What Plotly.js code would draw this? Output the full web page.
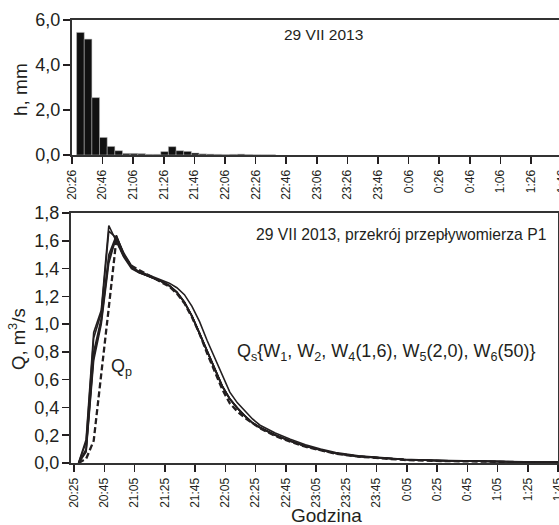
<!DOCTYPE html>
<html>
<head>
<meta charset="utf-8">
<script src="https://cdn.plot.ly/plotly-3.0.1.min.js"></script>
<style>
  html, body { margin: 0; padding: 0; overflow: hidden; background: #fff; }
</style>
</head>
<body>
<div id="chart"></div>
<script>
// rainfall, 5-min intervals (start of interval)
const rainStart = ['20:29', '20:34', '20:39', '20:44', '20:49', '20:54', '20:59', '21:04', '21:09', '21:14',
    '21:19', '21:24', '21:29', '21:34', '21:39', '21:44', '21:49', '21:54', '21:59', '22:04',
    '22:09', '22:14', '22:19', '22:24', '22:29', '22:34'];
const rainH = [5.45, 5.15, 2.55, 0.78, 0.38, 0.19, 0.07, 0.07, 0.06, 0.03,
    0.03, 0.15, 0.37, 0.19, 0.16, 0.09, 0.05, 0.04, 0.03, 0.02,
    0.03, 0.04, 0.02, 0.01, 0.01, 0.01];

// discharge hydrographs
const qTimes = ['20:28', '20:33', '20:38', '20:43', '20:48', '20:53', '20:58', '21:03', '21:08', '21:13',
    '21:18', '21:23', '21:28', '21:33', '21:38', '21:43', '21:48', '21:53', '21:58', '22:03',
    '22:08', '22:13', '22:18', '22:23', '22:28', '22:38', '22:48', '22:58', '23:08', '23:18',
    '23:33', '23:48', '0:03', '0:23', '0:43', '1:03', '1:23', '1:48'];
const qW1 = [0, 0.17, 0.94, 1.10, 1.71, 1.60, 1.48, 1.40, 1.37, 1.35, 1.33, 1.305, 1.275, 1.228, 1.155, 1.055, 0.93, 0.80, 0.672, 0.551,
    0.46, 0.394, 0.337, 0.288, 0.254, 0.20, 0.158, 0.12, 0.093, 0.069, 0.048, 0.034, 0.025, 0.018, 0.013, 0.009, 0.007, 0.005];
const qW2 = [0, 0.15, 0.90, 1.08, 1.67, 1.62, 1.49, 1.41, 1.372, 1.351, 1.331, 1.306, 1.276, 1.229, 1.157, 1.057, 0.932, 0.802, 0.674, 0.553,
    0.461, 0.395, 0.338, 0.289, 0.255, 0.201, 0.158, 0.12, 0.093, 0.069, 0.048, 0.034, 0.025, 0.018, 0.013, 0.009, 0.007, 0.005];
const qW4 = [0, 0.10, 0.80, 1.04, 1.50, 1.64, 1.50, 1.41, 1.373, 1.352, 1.332, 1.307, 1.277, 1.23, 1.158, 1.058, 0.933, 0.803, 0.675, 0.554,
    0.462, 0.396, 0.339, 0.29, 0.255, 0.201, 0.159, 0.121, 0.094, 0.07, 0.048, 0.034, 0.025, 0.018, 0.013, 0.009, 0.007, 0.005];
const qW5 = [0, 0.08, 0.74, 1.00, 1.44, 1.63, 1.51, 1.42, 1.374, 1.353, 1.333, 1.308, 1.278, 1.231, 1.16, 1.06, 0.935, 0.805, 0.677, 0.556,
    0.463, 0.397, 0.34, 0.29, 0.256, 0.202, 0.159, 0.121, 0.094, 0.07, 0.049, 0.035, 0.025, 0.018, 0.013, 0.009, 0.007, 0.005];
const qW6 = [0, 0.09, 0.77, 1.02, 1.47, 1.63, 1.50, 1.41, 1.38, 1.36, 1.34, 1.32, 1.295, 1.262, 1.212, 1.128, 1.018, 0.882, 0.755, 0.625,
    0.51, 0.433, 0.372, 0.317, 0.272, 0.216, 0.171, 0.131, 0.10, 0.075, 0.052, 0.037, 0.027, 0.019, 0.014, 0.01, 0.008, 0.006];
const qP = [0, 0.03, 0.16, 0.62, 1.12, 1.61, 1.49, 1.42, 1.39, 1.36, 1.33, 1.30, 1.27, 1.22, 1.15, 1.05, 0.93, 0.79, 0.655, 0.53,
    0.43, 0.37, 0.325, 0.285, 0.25, 0.195, 0.153, 0.117, 0.09, 0.067, 0.046, 0.032, 0.022, 0.015, 0.011, 0.008, 0.006, 0.005];

const W = 580, H = 525;
const ink = '#231f20';
const fontFam = '"Liberation Sans", Arial, sans-serif';

// "hh:mm" -> date string, hours after midnight belong to the next day
function toDate(hm) {
    const parts = hm.split(':');
    const h = parseInt(parts[0], 10);
    const day = h < 12 ? '2013-07-30' : '2013-07-29';
    return day + ' ' + (h < 10 ? '0' + h : h) + ':' + parts[1];
}

const qx = qTimes.map(toDate);

const traces = [{
    x: rainStart.map(toDate),
    y: rainH,
    type: 'bar',
    xaxis: 'x', yaxis: 'y',
    width: 300000,
    offset: 0,
    marker: {color: '#111', line: {color: '#bbb', width: 0.5}},
    hoverinfo: 'none'
}];

const sim = [qW1, qW2, qW4, qW5, qW6];
sim.forEach((arr) => {
    traces.push({
        x: qx, y: arr, type: 'scatter', mode: 'lines',
        xaxis: 'x2', yaxis: 'y2',
        line: {color: ink, width: 1.6},
        hoverinfo: 'none'
    });
});
traces.push({
    x: qx, y: qP, type: 'scatter', mode: 'lines',
    xaxis: 'x2', yaxis: 'y2',
    line: {color: ink, width: 2.3, dash: '6px,3px'},
    hoverinfo: 'none'
});

function xAx(dom, anchor, r0, r1, t0) {
    return {
        domain: dom, anchor: anchor, type: 'date',
        range: [toDate(r0), toDate(r1)],
        tick0: toDate(t0), dtick: 1200000, tickformat: '%-H:%M',
        tickangle: -90, ticks: 'outside', ticklen: 7, tickwidth: 1.5, tickcolor: ink,
        ticklabelstandoff: 1,
        tickfont: {size: 12, color: ink},
        showline: true, linewidth: 2, linecolor: '#333', mirror: true,
        showgrid: false, zeroline: false, fixedrange: true
    };
}
function yAx(dom, anchor, rmax, dt) {
    return {
        domain: dom, anchor: anchor,
        range: [0, rmax], dtick: dt, tickformat: '.1f',
        ticks: 'outside', ticklen: 7, tickwidth: 1.5, tickcolor: ink,
        ticklabelstandoff: -1,
        tickfont: {size: 18, color: ink},
        showline: true, linewidth: 2, linecolor: '#333', mirror: true,
        showgrid: false, zeroline: false, fixedrange: true
    };
}

const layout = {
    width: W, height: H,
    margin: {l: 0, r: 0, t: 0, b: 0},
    paper_bgcolor: '#fff', plot_bgcolor: '#fff',
    font: {family: fontFam, color: ink},
    separators: ', ',
    showlegend: false,
    bargap: 0,
    xaxis: xAx([72 / W, 1], 'y', '20:26', '1:58', '20:26'),
    yaxis: yAx([1 - 155 / H, 1 - 20 / H], 'x', 6, 2),
    xaxis2: xAx([71 / W, 558 / W], 'y2', '20:23', '1:45', '20:25'),
    yaxis2: yAx([1 - 463 / H, 1 - 213 / H], 'x2', 1.8, 0.2),
    annotations: [
        {text: '29 VII 2013', x: 282 / W, y: 1 - 35 / H, xanchor: 'left', yanchor: 'middle', font: {size: 15.5}},
        {text: '29 VII 2013, przekrój przepływomierza P1', x: 548 / W, y: 1 - 235 / H, xanchor: 'right', yanchor: 'middle', font: {size: 15.7}},
        {text: 'Q<sub>p</sub>', x: 109 / W, y: 1 - 367 / H, xanchor: 'left', yanchor: 'middle', font: {size: 18}},
        {text: 'Q<sub>s</sub>{W<sub>1</sub>, W<sub>2</sub>, W<sub>4</sub>(1,6), W<sub>5</sub>(2,0), W<sub>6</sub>(50)}',
            x: 235 / W, y: 1 - 352 / H, xanchor: 'left', yanchor: 'middle', font: {size: 18}},
        {text: 'h, mm', x: 20 / W, y: 1 - 90 / H, textangle: -90, xanchor: 'center', yanchor: 'middle', font: {size: 19}},
        {text: 'Q, m<sup>3</sup>/s', x: 17 / W, y: 1 - 339 / H, textangle: -90, xanchor: 'center', yanchor: 'middle', font: {size: 18.5}},
        {text: 'Godzina', x: 326 / W, y: 1 - 515 / H, xanchor: 'center', yanchor: 'middle', font: {size: 19}}
    ].map((a) => Object.assign({xref: 'paper', yref: 'paper', showarrow: false}, a))
};

Plotly.newPlot('chart', traces, layout, {displayModeBar: false, staticPlot: true});
</script>
</body>
</html>
